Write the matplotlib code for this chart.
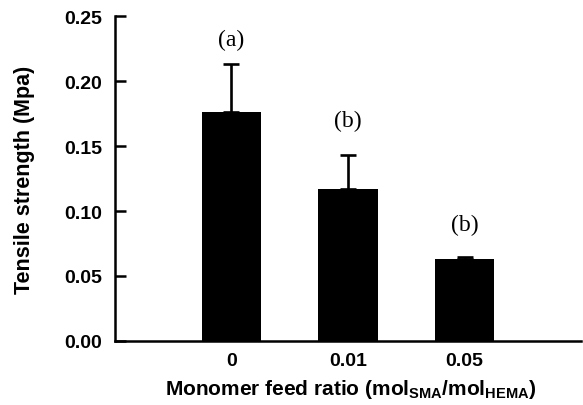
import matplotlib
matplotlib.use("Agg")
import matplotlib.pyplot as plt
import numpy as np

# data
ratios = ["0", "0.01", "0.05"]
strength = [0.176, 0.117, 0.063]
strength_err = [0.037, 0.026, 0.002]
letters = ["(a)", "(b)", "(b)"]
letter_y = [0.2325, 0.170, 0.0895]

plt.rcParams['font.family'] = ['Liberation Sans', 'DejaVu Sans']
plt.rcParams['mathtext.fontset'] = 'custom'
plt.rcParams['mathtext.rm'] = 'Liberation Sans:bold'
plt.rcParams['mathtext.bf'] = 'Liberation Sans:bold'

fig = plt.figure(figsize=(5.83, 4.06), dpi=100)
ax = fig.add_axes([0.197, 0.158, 0.8, 0.799])

x = np.arange(1, len(ratios) + 1)
ax.bar(x, strength, width=0.51, color='black', zorder=2)
ax.errorbar(x, strength, yerr=[np.zeros(len(x)), strength_err], fmt='none',
            ecolor='black', elinewidth=1.9, capsize=6, capthick=1.9, zorder=1)

for xi, lab, ly in zip(x, letters, letter_y):
    ax.text(xi, ly, lab, ha='center', va='center', fontsize=17,
            family='Liberation Serif')

ax.set_xlim(0, 4)
ax.set_ylim(0, 0.25)
ax.set_yticks([0, 0.05, 0.10, 0.15, 0.20, 0.25])
ax.set_yticklabels(["0.00", "0.05", "0.10", "0.15", "0.20", "0.25"])
ax.set_xticks(x)
ax.set_xticklabels(ratios)

for s in ['top', 'right']:
    ax.spines[s].set_visible(False)
for s in ['left', 'bottom']:
    ax.spines[s].set_linewidth(1.8)

ax.tick_params(axis='y', direction='in', length=8, width=1.8, pad=9, labelsize=14)
ax.tick_params(axis='x', length=0, pad=8, labelsize=14)
for t in ax.get_xticklabels() + ax.get_yticklabels():
    t.set_fontweight('bold')

ax.set_ylabel("Tensile strength (Mpa)", fontsize=15.5, fontweight='bold', va='center')
ax.set_xlabel(r"Monomer feed ratio (mol$_{\mathrm{SMA}}$/mol$_{\mathrm{HEMA}}$)",
              fontsize=15, fontweight='bold', va='center')
ax.yaxis.set_label_coords(-0.193, 0.5)
ax.xaxis.set_label_coords(0.506, -0.146)

fig.savefig("out.png", dpi=100)
